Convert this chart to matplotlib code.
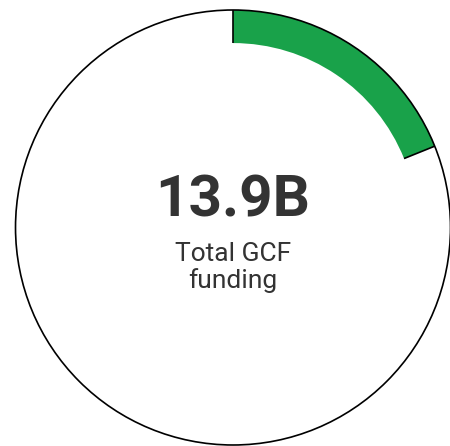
import numpy as np
from matplotlib import pyplot as plt
from matplotlib.patches import Circle

# data
total_label = "13.9B"
caption_lines = ["Total GCF", "funding"]
share_values = [0.189, 0.811]
share_colors = ["#19a24a", "white"]

RING_WIDTH = 0.152
TEXT_COLOR = "#333333"

fig = plt.figure(figsize=(4.5, 4.46), dpi=100)
ax = fig.add_axes([0, 0, 1, 1])

wedges, _ = ax.pie(
  share_values,
  colors=share_colors,
  startangle=90,
  counterclock=False,
  radius=1,
  wedgeprops=dict(width=RING_WIDTH, linewidth=0),
)

# outer outline
ax.add_patch(Circle((0, 0), 1, fill=False, edgecolor="black", linewidth=1.2, zorder=3))

# radial edges at both ends of the green segment
green = wedges[0]
for ang in (green.theta1, green.theta2):
  t = np.deg2rad(ang)
  ax.plot(
    [(1 - RING_WIDTH) * np.cos(t), np.cos(t)],
    [(1 - RING_WIDTH) * np.sin(t), np.sin(t)],
    color="black", linewidth=1.2, zorder=3, solid_capstyle="butt",
  )

ax.text(0, 0.05, total_label, ha="center", va="baseline",
        fontsize=42, fontweight="bold", family="Roboto", color=TEXT_COLOR)
ax.text(0, -0.152, caption_lines[0], ha="center", va="baseline",
        fontsize=19, family="Roboto", color=TEXT_COLOR)
ax.text(0, -0.278, caption_lines[1], ha="center", va="baseline",
        fontsize=19, family="Roboto", color=TEXT_COLOR)

ax.set_aspect("auto")
ax.set_xlim(-1.0713, 0.9977)
ax.set_ylim(-1.0046, 1.046)
ax.axis("off")

plt.savefig("out.png", dpi=100)
